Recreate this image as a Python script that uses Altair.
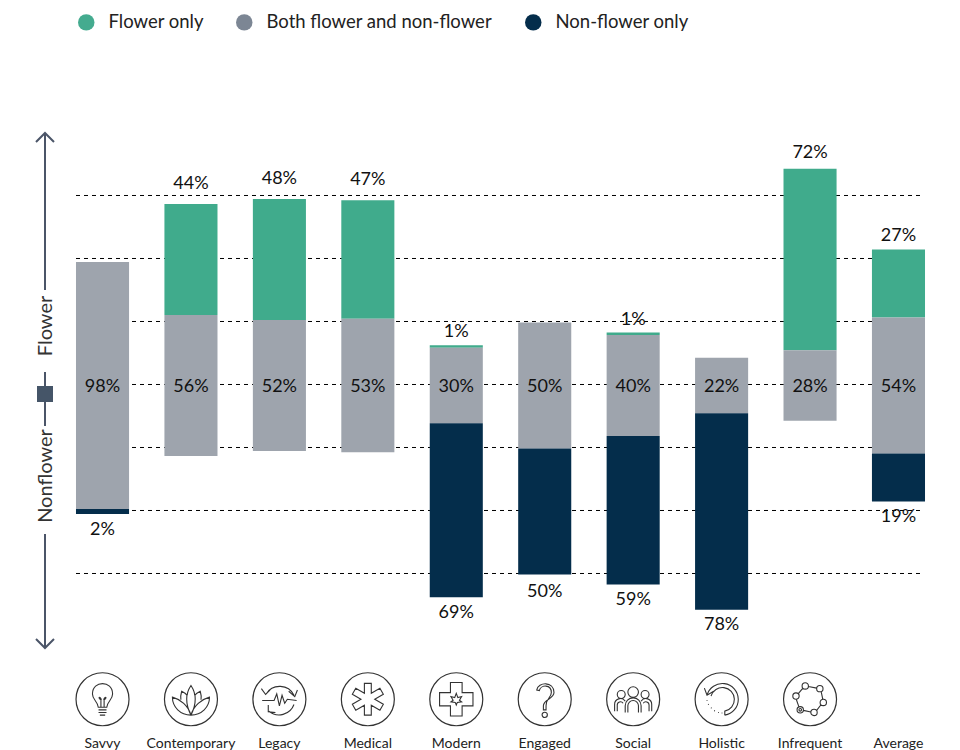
import altair as alt
import pandas as pd

FONT = "Lato"
cats = ["Savvy", "Contemporary", "Legacy", "Medical", "Modern", "Engaged", "Social", "Holistic", "Infrequent", "Average"]
flower = [0, 44, 48, 47, 1, 0, 1, 0, 72, 27]
both = [98, 56, 52, 53, 30, 50, 40, 22, 28, 54]
nonflower = [2, 0, 0, 0, 69, 50, 59, 78, 0, 19]
series = ["Flower only", "Both flower and non-flower", "Non-flower only"]
bar_colors = ["#40ab8c", "#9ea4ad", "#042d4b"]
legend_colors = ["#44ab8f", "#7c8694", "#042d4b"]
grid_vals = [75.4, 50.4, 25.4, 0.4, -24.6, -49.6, -74.6]

icons = {
    "Savvy": "M-0.16 0.3 C-0.18 0.08 -0.38 0.02 -0.38 -0.2 C-0.38 -0.72 0.38 -0.72 0.38 -0.2 C0.38 0.02 0.18 0.08 0.16 0.3 Z M-0.15 0.4 L0.15 0.4 M-0.15 0.5 L0.15 0.5 M-0.1 0.6 L0.1 0.6 M-0.06 0.3 L-0.06 0.02 M0.06 0.3 L0.06 0.02 M-0.06 0.02 C-0.2 -0.05 -0.1 -0.15 -0.04 0.02 M0.06 0.02 C0.2 -0.05 0.1 -0.15 0.04 0.02",
    "Contemporary": "M0 0.6 C-0.1 0.25 -0.4 0 -0.7 -0.08 C-0.7 0.3 -0.4 0.6 0 0.6 C0.4 0.6 0.7 0.3 0.7 -0.08 C0.4 0 0.1 0.25 0 0.6 M-0.38 0.02 C-0.4 -0.1 -0.38 -0.2 -0.35 -0.3 C-0.25 -0.25 -0.18 -0.2 -0.15 -0.15 M0.38 0.02 C0.4 -0.1 0.38 -0.2 0.35 -0.3 C0.25 -0.25 0.18 -0.2 0.15 -0.15 M0 0.6 C-0.2 0.2 -0.25 -0.15 0 -0.52 C0.25 -0.15 0.2 0.2 0 0.6",
    "Legacy": "M-0.5 -0.2 A0.6 0.6 0 0 1 0.55 -0.15 M0.35 -0.3 L0.58 -0.1 L0.68 -0.35 M-0.68 -0.4 L-0.52 -0.18 L-0.35 -0.35 M0.55 0.2 A0.6 0.6 0 0 1 -0.4 0.45 M-0.42 0.22 L-0.42 0.47 L-0.15 0.5 M-0.65 0.05 L-0.2 0.05 L-0.1 -0.2 L0 0.25 L0.1 -0.15 L0.2 0.15 L0.3 0 L0.65 0.05",
    "Medical": "M-0.13 -0.6 L0.13 -0.6 L0.13 -0.225 L0.455 -0.413 L0.585 -0.187 L0.26 0 L0.585 0.187 L0.455 0.413 L0.13 0.225 L0.13 0.6 L-0.13 0.6 L-0.13 0.225 L-0.455 0.413 L-0.585 0.187 L-0.26 0 L-0.585 -0.187 L-0.455 -0.413 L-0.13 -0.225 Z",
    "Modern": "M-0.22 -0.63 L0.22 -0.63 L0.22 -0.25 L0.63 -0.25 L0.63 0.25 L0.22 0.25 L0.22 0.63 L-0.22 0.63 L-0.22 0.25 L-0.63 0.25 L-0.63 -0.25 L-0.22 -0.25 Z M0 -0.22 L0.06 -0.06 L0.2 -0.1 L0.12 0.04 L0.2 0.1 L0.04 0.12 L0 0.22 L-0.04 0.12 L-0.2 0.1 L-0.12 0.04 L-0.2 -0.1 L-0.06 -0.06 Z",
    "Engaged": "M-0.3 -0.35 C-0.25 -0.65 0.35 -0.7 0.35 -0.25 C0.35 0 -0.05 0 -0.05 0.25 L-0.05 0.4 L0.05 0.4 L0.05 0.25 C0.05 -0.05 0.25 -0.05 0.25 -0.25 C0.25 -0.58 -0.15 -0.55 -0.2 -0.33 Z M0.1 0.59 A0.1 0.1 0 1 1 -0.1 0.59 A0.1 0.1 0 1 1 0.1 0.59",
    "Social": "M0.2 -0.27 A0.2 0.2 0 1 1 -0.2 -0.27 A0.2 0.2 0 1 1 0.2 -0.27 M-0.3 -0.18 A0.15 0.15 0 1 1 -0.6 -0.18 A0.15 0.15 0 1 1 -0.3 -0.18 M0.6 -0.18 A0.15 0.15 0 1 1 0.3 -0.18 A0.15 0.15 0 1 1 0.6 -0.18 M-0.3 0.5 L-0.3 0.25 A0.3 0.3 0 0 1 0.3 0.25 L0.3 0.5 M-0.2 0.5 L-0.2 0.25 A0.2 0.2 0 0 1 0.2 0.25 L0.2 0.5 M-0.7 0.45 L-0.7 0.2 A0.22 0.22 0 0 1 -0.3 0.07 M-0.6 0.45 L-0.6 0.22 A0.12 0.12 0 0 1 -0.38 0.15 M0.7 0.45 L0.7 0.2 A0.22 0.22 0 0 0 0.3 0.07 M0.6 0.45 L0.6 0.22 A0.12 0.12 0 0 0 0.38 0.15",
    "Holistic": "M-0.55 -0.15 A0.6 0.6 0 1 1 0.12 0.6 M-0.4 -0.12 A0.45 0.45 0 1 1 0.12 0.45 L0.12 0.6 M-0.65 -0.42 L-0.55 -0.15 L-0.3 -0.3 M-0.55 0.03 L-0.55 0.06 M-0.5 0.18 L-0.49 0.21 M-0.4 0.32 L-0.38 0.34 M-0.28 0.43 L-0.25 0.44 M-0.13 0.5 L-0.1 0.5 M0 0.52 L0.03 0.52",
    "Infrequent": "M-0.06 -0.5 A0.12 0.12 0 1 1 -0.3 -0.5 A0.12 0.12 0 1 1 -0.06 -0.5 M0.49 -0.4 A0.12 0.12 0 1 1 0.25 -0.4 A0.12 0.12 0 1 1 0.49 -0.4 M0.62 0.12 A0.12 0.12 0 1 1 0.38 0.12 A0.12 0.12 0 1 1 0.62 0.12 M0.27 0.5 A0.12 0.12 0 1 1 0.03 0.5 A0.12 0.12 0 1 1 0.27 0.5 M-0.25 0.4 A0.12 0.12 0 1 1 -0.49 0.4 A0.12 0.12 0 1 1 -0.25 0.4 M-0.32 0.4 A0.05 0.05 0 1 1 -0.42 0.4 A0.05 0.05 0 1 1 -0.32 0.4 M-0.41 -0.12 A0.12 0.12 0 1 1 -0.65 -0.12 A0.12 0.12 0 1 1 -0.41 -0.12 M-0.06 -0.48 L0.25 -0.42 M0.42 -0.29 L0.48 0 M0.42 0.2 L0.25 0.42 M0.03 0.48 L-0.25 0.42 M-0.42 0.29 L-0.52 0 M-0.45 -0.2 L-0.27 -0.42",
}

rows = []
for c, f, b, n in zip(cats, flower, both, nonflower):
    rows.append(dict(cat=c, series=series[0], y0=b / 2, y1=b / 2 + f, v=f))
    rows.append(dict(cat=c, series=series[1], y0=-b / 2, y1=b / 2, v=b))
    rows.append(dict(cat=c, series=series[2], y0=-b / 2 - n, y1=-b / 2, v=n))
df = pd.DataFrame(rows)
df["label"] = df["v"].astype(str) + "%"
df["mid"] = (df["y0"] + df["y1"]) / 2

x = alt.X("cat:N", scale=alt.Scale(domain=cats, range=[50.3, 934.7], paddingInner=0.4, paddingOuter=0.2),
          sort=cats, title=None,
          axis=alt.Axis(domain=False, ticks=False, labelAngle=0, labelFont=FONT, labelFontSize=14,
                        labelColor="#222222", labelPadding=3, labelBaseline="top", grid=False))
yscale = alt.Scale(domain=[-137.9, 149.8], range=[725, 0], nice=False, zero=False)
y = alt.Y("y0:Q", scale=yscale, title=None, axis=None)

grid = alt.Chart(pd.DataFrame({"g": grid_vals})).mark_rule(color="#000000", strokeWidth=1, strokeDash=[4, 4]).encode(
    y=alt.Y("g:Q", scale=yscale, axis=None, title=None), x=alt.value(68), x2=alt.value(916))

bars = alt.Chart(df[df.v > 0]).mark_bar().encode(
    x=x, y=y, y2="y1:Q",
    color=alt.Color("series:N", scale=alt.Scale(domain=series, range=bar_colors), legend=None))

legend_layer = alt.Chart(df).mark_point(filled=True, opacity=0.001).encode(
    x=x, y=y,
    color=alt.Color("series:N", scale=alt.Scale(domain=series, range=legend_colors),
                  legend=alt.Legend(title=None, orient="none", legendX=69, legendY=5, direction="horizontal",
                                    columns=3, columnPadding=31, symbolType="circle", symbolSize=270,
                                    symbolOpacity=1, symbolStrokeWidth=0, labelFont=FONT, labelFontSize=18.5,
                                    labelColor="#222222", labelOffset=13, labelLimit=400)))

def labels(sel, field, dy):
    return alt.Chart(df[sel]).mark_text(font=FONT, fontSize=18, color="#111111", dy=dy, baseline="middle").encode(
        x=x, y=alt.Y(field + ":Q", scale=yscale, axis=None, title=None), text="label:N")

top_groups = {-20: ["Contemporary", "Legacy", "Medical"], -16: ["Infrequent"], -13: ["Modern", "Social", "Average"]}
bot_groups = {16: ["Savvy", "Modern", "Average"], 18: ["Engaged"], 15: ["Social", "Holistic"]}
label_layers = [labels(df.series == series[1], "mid", 1.5)]
for dy, group in top_groups.items():
    label_layers.append(labels((df.series == series[0]) & df.cat.isin(group), "y1", dy))
for dy, group in bot_groups.items():
    label_layers.append(labels((df.series == series[2]) & df.cat.isin(group), "y0", dy))

icon_cats = list(icons)
circles = alt.Chart(pd.DataFrame({"cat": icon_cats, "iy": [-124.5] * 9})).mark_point(
    shape="circle", size=2809, stroke="#333333", strokeWidth=1.2, filled=False, opacity=1).encode(
    x=x, y=alt.Y("iy:Q", scale=yscale, axis=None, title=None))
glyphs = alt.Chart(pd.DataFrame({"cat": icon_cats, "iy": [-124.5] * 9})).mark_point(
    size=2809, stroke="#333333", strokeWidth=1.1, filled=False, opacity=1).encode(
    x=x, y=alt.Y("iy:Q", scale=yscale, axis=None, title=None),
    shape=alt.Shape("cat:N", scale=alt.Scale(domain=icon_cats, range=[icons[c] for c in icon_cats]), legend=None))

AX = "#4b5568"
AXX = 37
def seg(a, b):
    return alt.Chart(pd.DataFrame({"a": [0]})).mark_rule(color=AX, strokeWidth=2).encode(
        x=alt.value(AXX), y=alt.value(a), y2=alt.value(b))

segs = [seg(125, 282), seg(364, 378), seg(394, 418), seg(526, 640)]
head_up = alt.Chart(pd.DataFrame({"a": [0]})).mark_point(shape="M-1 1 L0 0 L1 1", size=324, stroke=AX, strokeWidth=2, filled=False, opacity=1).encode(
    x=alt.value(AXX), y=alt.value(125))
head_dn = alt.Chart(pd.DataFrame({"a": [0]})).mark_point(shape="M-1 -1 L0 0 L1 -1", size=324, stroke=AX, strokeWidth=2, filled=False, opacity=1).encode(
    x=alt.value(AXX), y=alt.value(640))
square = alt.Chart(pd.DataFrame({"a": [0]})).mark_square(size=256, color="#455568", opacity=1).encode(
    x=alt.value(AXX), y=alt.value(386))
t1 = alt.Chart(pd.DataFrame({"a": [0]})).mark_text(text="Flower", angle=270, font=FONT, fontSize=20, color="#333333", baseline="alphabetic").encode(
    x=alt.value(44), y=alt.value(318))
t2 = alt.Chart(pd.DataFrame({"a": [0]})).mark_text(text="Nonflower", angle=270, font=FONT, fontSize=20, color="#333333", baseline="alphabetic").encode(
    x=alt.value(44), y=alt.value(468))

chart = alt.layer(grid, bars, legend_layer, *label_layers, circles, glyphs, *segs, head_up, head_dn, square, t1, t2).resolve_scale(
    x="shared", y="shared", color="independent"
).properties(
    width=944, height=725,
    padding={"left": 0, "top": 0, "right": 0, "bottom": 25},
    autosize=alt.AutoSizeParams(type="none"),
    background="white",
).configure_view(stroke=None)

chart.save("out.html", embed_options={"renderer": "svg", "actions": False})
